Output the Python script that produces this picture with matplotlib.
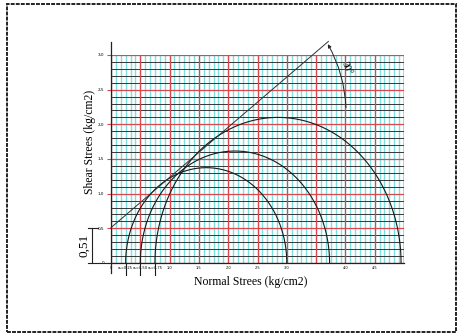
import numpy as np
import matplotlib
matplotlib.use("Agg")
import matplotlib.pyplot as plt
from matplotlib.patches import Rectangle

# ---- data ----
sigma3 = [0.25, 0.50, 0.75]          # minor principal stresses (kg/cm2)
sigma1 = [3.00, 3.73, 4.95]          # major principal stresses (kg/cm2)
cohesion = 0.51                      # intercept of failure envelope
envelope_slope = 0.724               # tan(phi) as drawn
envelope_x_end = 3.71
angle_label = "30°"

x_ticks = [0, 0.25, 0.5, 0.75, 1.0, 1.5, 2.0, 2.5, 3.0, 4.0, 4.5]
x_tick_labels = ["0", "σ₃=0,25", "σ₃=0,50", "σ₃=0,75", "1,0", "1,5", "2,0",
                 "2,5", "3,0", "4,0", "4,5"]
y_ticks = [0, 0.5, 1.0, 1.5, 2.0, 2.5, 3.0]
y_tick_labels = ["0", "0,5", "1,0", "1,5", "2,0", "2,5", "3,0"]

XMAX, YMAX = 5.0, 3.0

W, H = 459, 335
fig = plt.figure(figsize=(W / 100, H / 100), dpi=100)
ax = fig.add_axes([111 / W, (H - 263) / H, 293 / W, 208 / H])
ax.set_xlim(0, XMAX)
ax.set_ylim(0, YMAX)
for s in ax.spines.values():
    s.set_visible(False)

# ---- graph-paper grid ----
cyan = "#7fe0e0"
red = "#d9474f"
dark = "#2a2a2a"
fine_x = np.arange(0, XMAX + 1e-9, 0.5 / 6)
major_x = np.arange(0, XMAX + 1e-9, 0.5)
fine_y = np.arange(0, YMAX + 1e-9, 0.1)
major_y = np.arange(0, YMAX + 1e-9, 0.5)
ax.vlines(fine_x, 0, YMAX, colors=cyan, lw=1.0, zorder=1)
ax.hlines(fine_y, 0, XMAX, colors=dark, lw=0.65, zorder=2)
ax.vlines(major_x, 0, YMAX, colors=red, lw=0.9, zorder=3)
ax.hlines(major_y, 0, XMAX, colors=red, lw=0.9, zorder=3)
ax.vlines([XMAX], 0, YMAX, colors=dark, lw=0.9, zorder=3)

# axes lines
ax.plot([0, 0], [-0.14, 3.19], color="#222222", lw=0.9, clip_on=False, zorder=5)
ax.plot([0, XMAX], [0, 0], color="#222222", lw=0.9, clip_on=False, zorder=5)

# ---- Mohr circles ----
t = np.linspace(0, np.pi, 300)
for s3, s1 in zip(sigma3, sigma1):
    c = (s1 + s3) / 2
    r = (s1 - s3) / 2
    ax.plot(c + r * np.cos(t), r * np.sin(t), color="#1a1a1a", lw=0.8, zorder=6)
    ax.plot([s3, s3], [0, -0.17], color="#1a1a1a", lw=0.8, clip_on=False, zorder=6)

# ---- failure envelope ----
ex = np.array([0, envelope_x_end])
ax.plot(ex, cohesion + envelope_slope * ex, color="#333333", lw=0.7,
        clip_on=False, zorder=7)

# angle arc with arrow
ax.annotate("", xy=(envelope_x_end - 0.01, cohesion + envelope_slope * envelope_x_end - 0.04),
            xytext=(4.01, 2.24), annotation_clip=False,
            arrowprops=dict(arrowstyle="-|>", connectionstyle="arc3,rad=0.12",
                            lw=0.7, color="#222222", mutation_scale=5,
                            shrinkA=0, shrinkB=0))
ax.text(4.02, 2.8, angle_label, rotation=-68, fontsize=7,
        family="Liberation Serif", ha="center", va="center", clip_on=False,
        zorder=8)

# ---- dimension 0,51 ----
dx = -0.33
ax.plot([dx, dx], [0, cohesion], color="#222222", lw=0.8, clip_on=False)
ax.plot([dx - 0.06, dx + 0.1], [cohesion, cohesion], color="#222222", lw=0.8, clip_on=False)
ax.plot([dx - 0.06, 0], [0, 0], color="#222222", lw=0.8, clip_on=False)
ax.text(dx - 0.12, cohesion / 2, "0,51", rotation=90, fontsize=9.5,
        family="Liberation Serif", ha="center", va="center", clip_on=False)

# ---- ticks ----
ax.set_xticks(x_ticks)
ax.set_xticklabels(x_tick_labels, fontsize=2.6, family="DejaVu Sans")
ax.set_yticks(y_ticks)
ax.set_yticklabels(y_tick_labels, fontsize=3, family="DejaVu Sans")
ax.tick_params(axis="x", length=0, pad=2.5)
ax.tick_params(axis="y", length=3, color=red, width=0.8, pad=2.0)

ax.text(2.39, -0.28, "Normal Strees (kg/cm2)", fontsize=8.5,
        family="Liberation Serif", ha="center", va="center",
        transform=ax.transData, clip_on=False)
ax.text(-0.35, 1.75, "Shear Strees (kg/cm2)", fontsize=8.5, rotation=90,
        family="Liberation Serif", ha="center", va="center", clip_on=False)

# ---- outer dashed frame ----
fig.add_artist(Rectangle((7 / W, 3 / H), 449 / W, 328 / H, transform=fig.transFigure,
                         fill=False, lw=1.4, ls=(0, (2, 0.6)), edgecolor="#222222"))

fig.savefig("out.png", dpi=100, facecolor="white")
